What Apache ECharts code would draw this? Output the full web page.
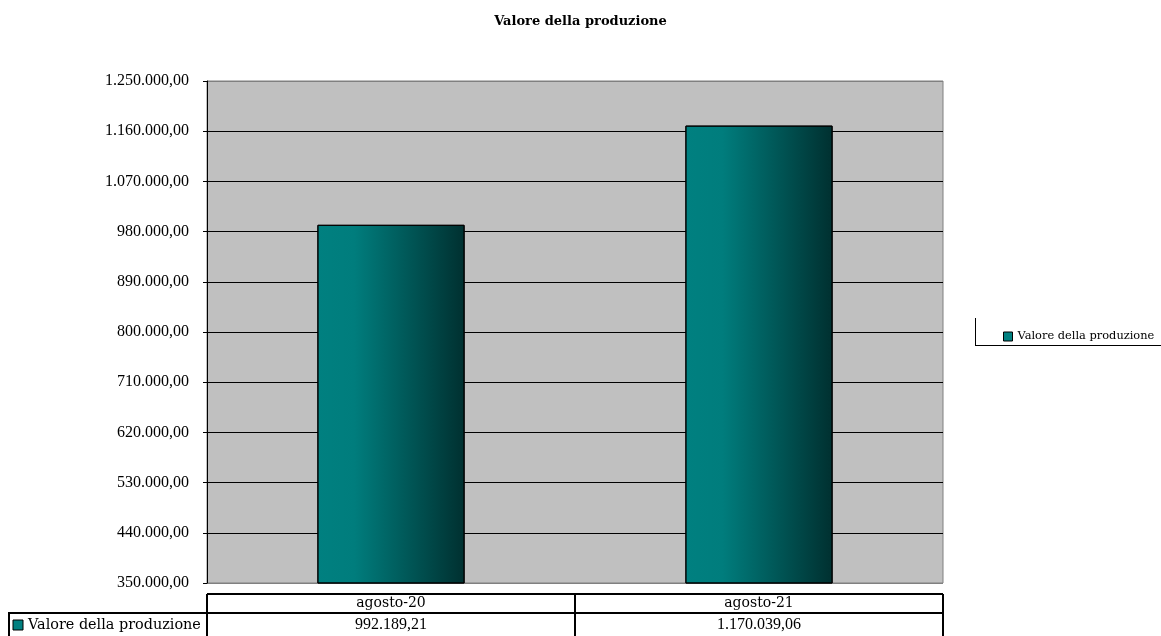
<!DOCTYPE html>
<html>
<head>
<meta charset="utf-8">
<script src="https://cdn.jsdelivr.net/npm/echarts@6/dist/echarts.min.js"></script>
<style>
html,body{margin:0;padding:0;background:#fff;}
#chart{width:1161px;height:636px;}
</style>
</head>
<body>
<div id="chart"></div>
<script>
const chartTitle = 'Valore della produzione';
const seriesName = 'Valore della produzione';
const categories = ['agosto-20', 'agosto-21'];
const values = [992189.21, 1170039.06];
const yMin = 350000;
const yMax = 1250000;
const yStep = 90000;

function fmtIt(v) {
  const parts = Number(v).toFixed(2).split('.');
  parts[0] = parts[0].replace(/\B(?=(\d{3})+(?!\d))/g, '.');
  return parts[0] + ',' + parts[1];
}
const valueLabels = values.map(fmtIt);

const nLines = Math.round((yMax - yMin) / yStep) + 1;
const splitColors = [];
for (let i = 0; i < nLines; i++) splitColors.push(i === 0 || i === nLines - 1 ? '#808080' : '#000000');

const wordFont = 'DejaVu Serif';
const numFont = 'Liberation Serif';

const barGradient = new echarts.graphic.LinearGradient(0, 0, 1, 0, [
  { offset: 0, color: '#008080' },
  { offset: 0.25, color: '#007d7d' },
  { offset: 1, color: '#003030' }
]);

const chart = echarts.init(document.getElementById('chart'), null, { renderer: 'canvas' });

const option = {
  backgroundColor: '#ffffff',
  animation: false,
  title: {
    text: chartTitle,
    left: 'center',
    top: 10,
    textStyle: { fontFamily: wordFont, fontSize: 13, fontWeight: 'bold', color: '#000' }
  },
  legend: {
    data: [seriesName],
    orient: 'vertical',
    left: 998,
    top: 326,
    itemWidth: 9,
    itemHeight: 9,
    icon: 'rect',
    itemStyle: { color: '#008080', borderColor: '#000', borderWidth: 1 },
    textStyle: { fontFamily: wordFont, fontSize: 11.4, color: '#000' }
  },
  grid: {
    left: 207,
    right: 218,
    top: 81,
    bottom: 53,
    show: true,
    backgroundColor: '#C0C0C0',
    borderColor: '#808080',
    borderWidth: 1,
    containLabel: false
  },
  xAxis: [
    {
      type: 'category',
      data: categories,
      position: 'bottom',
      axisLine: { show: false },
      axisTick: { show: false },
      axisLabel: {
        margin: 13,
        fontFamily: wordFont,
        fontSize: 14,
        lineHeight: 14,
        color: '#000'
      },
      splitLine: { show: false }
    },
    {
      type: 'category',
      data: valueLabels,
      position: 'bottom',
      axisLine: { show: false },
      axisTick: { show: false },
      axisLabel: {
        margin: 34,
        fontFamily: numFont,
        fontSize: 16,
        lineHeight: 16,
        color: '#000'
      },
      splitLine: { show: false }
    }
  ],
  yAxis: {
    type: 'value',
    min: yMin,
    max: yMax,
    interval: yStep,
    axisLine: { show: true, lineStyle: { color: '#000', width: 1 } },
    axisTick: { show: true, length: 4, lineStyle: { color: '#000' } },
    axisLabel: {
      margin: 18,
      fontFamily: numFont,
      fontSize: 16,
      color: '#000',
      formatter: fmtIt
    },
    splitLine: { show: true, lineStyle: { color: splitColors, width: 1 } }
  },
  series: [
    {
      name: seriesName,
      type: 'bar',
      xAxisIndex: 0,
      yAxisIndex: 0,
      data: values,
      barWidth: '40%',
      itemStyle: { color: barGradient, borderColor: '#000', borderWidth: 1 }
    }
  ]
};

chart.setOption(option);

function drawExtras() {
  const c0 = chart.convertToPixel({ xAxisIndex: 0 }, categories[0]);
  const c1 = chart.convertToPixel({ xAxisIndex: 0 }, categories[categories.length - 1]);
  const band = categories.length > 1 ? (c1 - c0) / (categories.length - 1) : 0;
  const left = c0 - band / 2;
  const right = c1 + band / 2;
  const yBottom = chart.convertToPixel({ yAxisIndex: 0 }, yMin);
  const row1Top = yBottom + 11;
  const row2Top = row1Top + 19;
  const lw = 2;
  const ls = { stroke: '#000', lineWidth: lw };
  const els = [];
  els.push({ type: 'line', shape: { x1: left, y1: row1Top, x2: right, y2: row1Top }, style: ls });
  els.push({ type: 'line', shape: { x1: 8, y1: row2Top, x2: right, y2: row2Top }, style: ls });
  els.push({ type: 'line', shape: { x1: left, y1: row1Top, x2: left, y2: 640 }, style: ls });
  els.push({ type: 'line', shape: { x1: right, y1: row1Top, x2: right, y2: 640 }, style: ls });
  for (let i = 1; i < categories.length; i++) {
    const x = left + band * i;
    els.push({ type: 'line', shape: { x1: x, y1: row1Top, x2: x, y2: 640 }, style: ls });
  }
  els.push({ type: 'line', shape: { x1: 9, y1: row2Top, x2: 9, y2: 640 }, style: ls });
  els.push({ type: 'rect', shape: { x: 13, y: row2Top + 7, width: 10, height: 10 }, style: { fill: '#008080', stroke: '#000', lineWidth: 1 } });
  els.push({ type: 'text', style: { x: 28, y: row2Top + 12, text: seriesName, fontFamily: wordFont, fontSize: 14.4, fill: '#000', verticalAlign: 'middle', align: 'left' } });
  els.push({ type: 'line', shape: { x1: 975.5, y1: 318, x2: 975.5, y2: 346 }, style: { stroke: '#000', lineWidth: 1 } });
  els.push({ type: 'line', shape: { x1: 975, y1: 345.5, x2: 1161, y2: 345.5 }, style: { stroke: '#000', lineWidth: 1 } });
  chart.setOption({ graphic: { elements: els } });
}
drawExtras();
</script>
</body>
</html>
